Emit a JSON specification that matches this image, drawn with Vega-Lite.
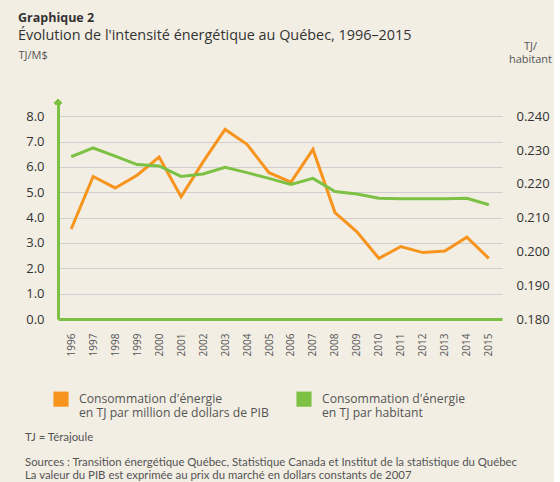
{
  "$schema": "https://vega.github.io/schema/vega-lite/v6.json",
  "background": "#f2eee4",
  "padding": {"left": 18, "top": 12, "right": 2, "bottom": 0},
  "title": {
    "text": "Graphique 2",
    "subtitle": "Évolution de l'intensité énergétique au Québec, 1996–2015",
    "anchor": "start",
    "frame": "bounds",
    "font": "Open Sans",
    "fontSize": 12.5,
    "fontWeight": "bold",
    "color": "#333333",
    "subtitleFont": "Open Sans",
    "subtitleFontSize": 14.4,
    "subtitleColor": "#333333",
    "subtitlePadding": 4,
    "offset": -2
  },
  "config": {"view": {"stroke": null}, "font": "Open Sans"},
  "vconcat": [
    {
      "width": 444,
      "height": 218,
      "title": {
        "text": "TJ = Térajoule",
        "subtitle": ["Sources : Transition énergétique Québec, Statistique Canada et Institut de la statistique du Québec", "La valeur du PIB est exprimée au prix du marché en dollars constants de 2007"],
        "orient": "bottom",
        "anchor": "start",
        "frame": "bounds",
        "font": "Lato",
        "fontSize": 11.4,
        "fontWeight": "normal",
        "color": "#555555",
        "subtitleFont": "Lato",
        "subtitleFontSize": 11.4,
        "subtitleColor": "#555555",
        "subtitleLineHeight": 13,
        "subtitlePadding": 14,
        "offset": 76,
        "dx": 7
      },
      "data": {
        "values": [
          {"annee": 1996, "pib": 3.55, "hab": 0.2280},
          {"annee": 1997, "pib": 5.62, "hab": 0.2306},
          {"annee": 1998, "pib": 5.17, "hab": 0.2282},
          {"annee": 1999, "pib": 5.67, "hab": 0.2257},
          {"annee": 2000, "pib": 6.39, "hab": 0.2253},
          {"annee": 2001, "pib": 4.82, "hab": 0.2222},
          {"annee": 2002, "pib": 6.20, "hab": 0.2229},
          {"annee": 2003, "pib": 7.48, "hab": 0.2249},
          {"annee": 2004, "pib": 6.89, "hab": 0.2233},
          {"annee": 2005, "pib": 5.77, "hab": 0.2216},
          {"annee": 2006, "pib": 5.40, "hab": 0.2198},
          {"annee": 2007, "pib": 6.69, "hab": 0.2216},
          {"annee": 2008, "pib": 4.20, "hab": 0.2177},
          {"annee": 2009, "pib": 3.44, "hab": 0.2170},
          {"annee": 2010, "pib": 2.39, "hab": 0.2157},
          {"annee": 2011, "pib": 2.86, "hab": 0.2156},
          {"annee": 2012, "pib": 2.62, "hab": 0.2156},
          {"annee": 2013, "pib": 2.68, "hab": 0.2156},
          {"annee": 2014, "pib": 3.23, "hab": 0.2157},
          {"annee": 2015, "pib": 2.39, "hab": 0.2138}
        ]
      },
      "encoding": {
        "x": {
          "field": "annee",
          "type": "quantitative",
          "scale": {"domain": [1995.4, 2015.6], "nice": false, "zero": false},
          "axis": {
            "title": null,
            "values": [1996, 1997, 1998, 1999, 2000, 2001, 2002, 2003, 2004, 2005, 2006, 2007, 2008, 2009, 2010, 2011, 2012, 2013, 2014, 2015],
            "format": "d",
            "labelAngle": -90,
            "labelFontSize": 10,
            "labelColor": "#555555",
            "labelPadding": 14,
            "ticks": false,
            "grid": false,
            "domainColor": "#7cc143",
            "domainWidth": 3,
            "labelFlush": false,
            "labelOverlap": false
          }
        }
      },
      "layer": [
        {
          "encoding": {
            "y": {
              "field": "pib",
              "type": "quantitative",
              "scale": {"domain": [0, 8.6], "nice": false},
              "axis": {
                "title": "TJ/M$",
                "titleAngle": 0,
                "titleAlign": "left",
                "titleBaseline": "middle",
                "titleX": -40,
                "titleY": -46,
                "titleFont": "Open Sans",
                "titleFontSize": 11,
                "titleFontWeight": "normal",
                "titleColor": "#555555",
                "values": [0, 1, 2, 3, 4, 5, 6, 7, 8],
                "format": ".1f",
                "labelFontSize": 13,
                "labelColor": "#333333",
                "labelPadding": 14,
                "labelOverlap": false,
                "ticks": false,
                "grid": true,
                "gridColor": "#cfcfcf",
                "gridWidth": 1,
                "domainColor": "#7cc143",
                "domainWidth": 3
              }
            }
          },
          "layer": [
            {
              "mark": {"type": "line", "strokeWidth": 3},
              "encoding": {
                "color": {
                  "datum": "Consommation d'énergie|en TJ par million de dollars de PIB",
                  "scale": {
                    "domain": ["Consommation d'énergie|en TJ par million de dollars de PIB", "Consommation d'énergie|en TJ par habitant"],
                    "range": ["#f7941d", "#7cc143"]
                  },
                  "legend": {
                    "title": null,
                    "orient": "none",
                    "legendX": -5,
                    "legendY": 290,
                    "direction": "horizontal",
                    "columns": 2,
                    "symbolType": "square",
                    "symbolSize": 230,
                    "symbolStrokeWidth": 0,
                    "labelExpr": "split(datum.label, '|')",
                    "labelFont": "Open Sans",
                    "labelFontSize": 12.2,
                    "labelColor": "#555555",
                    "labelLimit": 400,
                    "labelOffset": 10,
                    "columnPadding": 27,
                    "padding": 0,
                    "encode": {
                      "symbols": {"update": {"fill": {"scale": "color", "field": "value"}, "stroke": {"value": "transparent"}}},
                      "labels": {"update": {"lineHeight": {"value": 13.5}}}
                    }
                  }
                }
              }
            },
            {
              "mark": {"type": "point", "shape": "M-0.5,0.5L0,0L0.5,0.5", "filled": false, "stroke": "#7cc143", "strokeWidth": 3, "size": 121, "opacity": 1},
              "encoding": {
                "x": {"datum": 1995.4, "type": "quantitative"},
                "y": {"datum": 8.6, "type": "quantitative"}
              }
            }
          ]
        },
        {
          "mark": {"type": "line", "strokeWidth": 3},
          "encoding": {
            "y": {
              "field": "hab",
              "type": "quantitative",
              "scale": {"domain": [0.18, 0.2445], "nice": false, "zero": false},
              "axis": {
                "orient": "right",
                "title": ["TJ/", "habitant"],
                "titleAngle": 0,
                "titleAlign": "center",
                "titleBaseline": "bottom",
                "titleLineHeight": 13,
                "titleX": 28,
                "titleY": -50,
                "titleFont": "Open Sans",
                "titleFontSize": 11,
                "titleFontWeight": "normal",
                "titleColor": "#555555",
                "values": [0.18, 0.19, 0.2, 0.21, 0.22, 0.23, 0.24],
                "format": ".3f",
                "labelFontSize": 13,
                "labelColor": "#333333",
                "labelPadding": 14,
                "labelOverlap": false,
                "ticks": false,
                "grid": false,
                "domain": false
              }
            },
            "color": {"datum": "Consommation d'énergie|en TJ par habitant"}
          }
        }
      ],
      "resolve": {"scale": {"y": "independent"}}
    }
  ]
}
